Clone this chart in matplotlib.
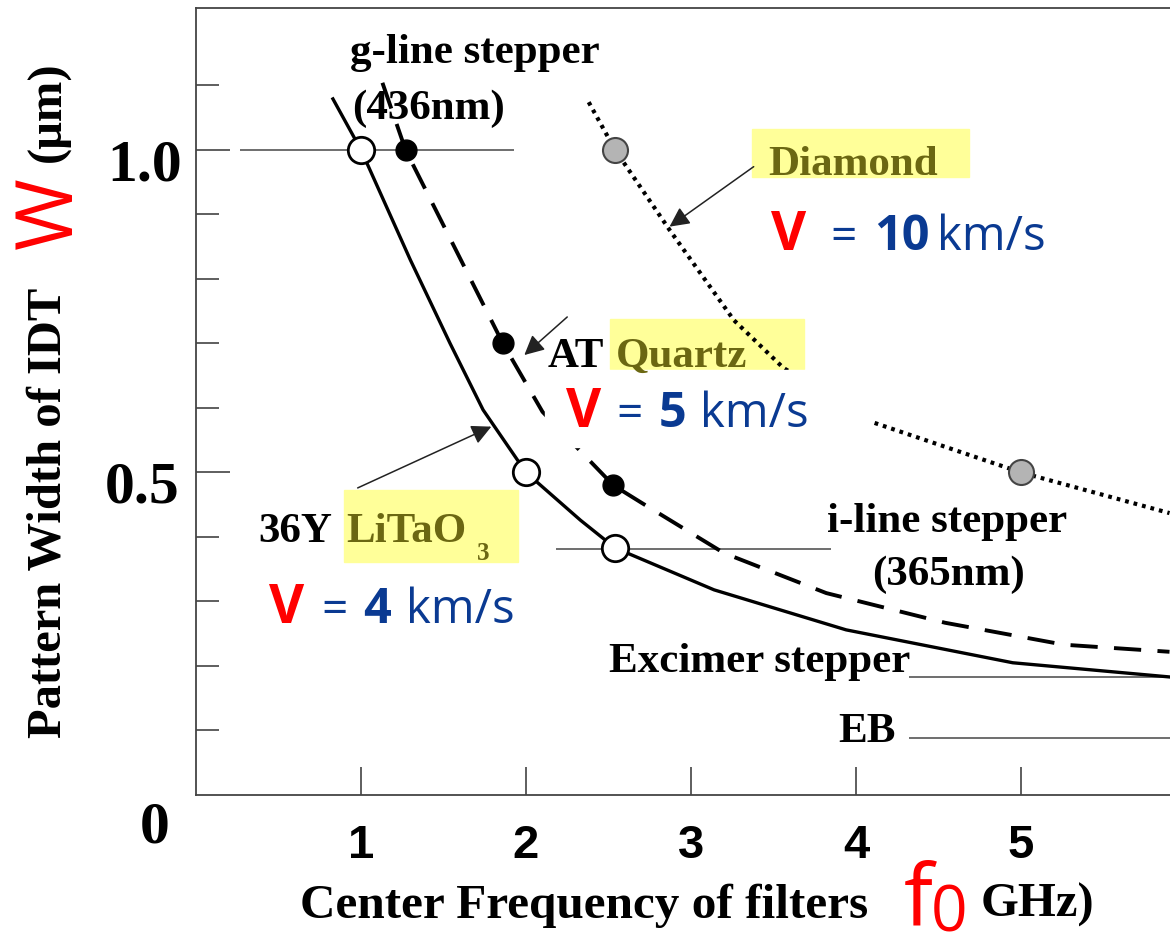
import matplotlib
matplotlib.use('Agg')
import matplotlib.pyplot as plt
from matplotlib.patches import Rectangle
import numpy as np

# --- donnees (f en GHz, W en um) ---
litao_f = [0.83, 1.0, 1.30, 1.54, 1.74, 2.0, 2.33, 2.54, 3.14, 3.94, 4.95, 5.90]
litao_w = [1.079, 1.0, 0.829, 0.70, 0.597, 0.50, 0.426, 0.383, 0.318, 0.256, 0.205, 0.183]
litao_mark_f = [1.0, 2.0, 2.54]
litao_mark_w = [1.0, 0.5, 0.383]

quartz_f = [1.13, 1.27, 1.86, 2.10, 2.53, 2.70, 3.20, 3.82, 4.54, 5.26, 5.90]
quartz_w = [1.104, 1.0, 0.70, 0.594, 0.48, 0.453, 0.375, 0.313, 0.267, 0.233, 0.222]
quartz_mark_f = [1.27, 1.86, 2.53]
quartz_mark_w = [1.0, 0.70, 0.48]

diamond_f = [2.38, 2.54, 2.87, 3.26, 3.56, 4.11, 5.0, 5.90]
diamond_w = [1.074, 1.0, 0.876, 0.736, 0.662, 0.577, 0.50, 0.437]
diamond_mark_f = [2.54, 5.0]
diamond_mark_w = [1.0, 0.5]

# lignes de resolution des steppers
ref_w = [1.0, 0.381, 0.183, 0.088]
ref_start = [0.267, 2.18, 4.32, 4.32]
ref_end = [1.93, 3.85, 5.9, 5.9]

x_ticks = [1, 2, 3, 4, 5]
y_minor = [0.1, 0.2, 0.3, 0.4, 0.6, 0.7, 0.8, 0.9, 1.1]
y_major = [0.5, 1.0]

SERIF = 'Liberation Serif'
SANS = 'Open Sans'
OLIVE = '#6b6712'
YELLOW = '#ffff99'
BLUE = '#0a3a92'
RED = '#ff0000'

fig = plt.figure(figsize=(11.7, 9.47), dpi=100)
ax = fig.add_axes([0.1675, 0.1605, 0.8325, 0.8311])
ax.set_xlim(0, 5.903)
ax.set_ylim(0, 1.22)

for s in ['left', 'bottom', 'top']:
    ax.spines[s].set_color('#444444')
    ax.spines[s].set_linewidth(1.3)
ax.spines['right'].set_visible(False)

ax.set_xticks(x_ticks)
ax.set_xticklabels([str(t) for t in x_ticks], fontfamily='Liberation Sans',
                   fontweight='bold', fontsize=34)
ax.tick_params(axis='x', direction='in', length=20, width=1.1, color='#333333', pad=21)
ax.set_yticks(y_major)
ax.set_yticklabels([])
ax.set_yticks(y_minor, minor=True)
ax.tick_params(axis='y', which='major', direction='in', length=24.5, width=1.1, color='#333333')
ax.tick_params(axis='y', which='minor', direction='in', length=16.5, width=1.1, color='#333333')

# etiquettes de l'axe y (placees a la main, decalees comme sur l'original)
ax.text(-0.085, 0.953, '1.0', ha='right', va='baseline', fontfamily=SERIF,
        fontweight='bold', fontsize=43, clip_on=False)
ax.text(-0.097, 0.454, '0.5', ha='right', va='baseline', fontfamily=SERIF,
        fontweight='bold', fontsize=43, clip_on=False)
ax.text(-0.158, -0.073, '0', ha='right', va='baseline', fontfamily=SERIF,
        fontweight='bold', fontsize=43, clip_on=False)

# lignes de reference
ax.hlines(ref_w, ref_start, ref_end, colors='#555555', linewidth=1.2, zorder=1)

# surlignages jaunes
ax.add_patch(Rectangle((3.370, 0.958), 1.315, 0.075, color=YELLOW, zorder=1))
ax.add_patch(Rectangle((2.509, 0.660), 1.176, 0.078, color=YELLOW, zorder=1))
ax.add_patch(Rectangle((0.897, 0.361), 1.055, 0.112, color=YELLOW, zorder=1))

# courbes
ax.plot(litao_f, litao_w, color='black', linewidth=2.4, zorder=2)
ax.plot(quartz_f, quartz_w, color='black', linewidth=2.8, dashes=(7, 4.2), zorder=2)
ax.plot(diamond_f, diamond_w, color='black', linewidth=3.0, dashes=(0.9, 1.2), zorder=2)

# boite blanche du texte V = 5 km/s (cache les courbes)
ax.add_patch(Rectangle((2.115, 0.540), 1.975, 0.119, color='white', zorder=3))

ax.plot(litao_mark_f, litao_mark_w, 'o', ms=19, mfc='white', mec='black', mew=2, zorder=4)
ax.plot(quartz_mark_f, quartz_mark_w, 'o', ms=15, mfc='black', mec='black', zorder=4)
ax.plot(diamond_mark_f, diamond_mark_w, 'o', ms=18, mfc='#b4b4b4', mec='#444444', mew=1.5, zorder=4)

# fleches
arr = dict(arrowstyle='-|>', mutation_scale=30, lw=1.1, color='#222222', shrinkA=0, shrinkB=0)
ax.annotate('', xy=(2.87, 0.881), xytext=(3.38, 0.974), arrowprops=arr, zorder=5)
ax.annotate('', xy=(1.99, 0.682), xytext=(2.25, 0.741), arrowprops=arr, zorder=5)
ax.annotate('', xy=(1.79, 0.571), xytext=(0.98, 0.476), arrowprops=arr, zorder=5)

# textes noirs (serif gras)
lab = dict(fontfamily=SERIF, fontweight='bold', fontsize=31, ha='left', va='baseline', zorder=6)
ax.text(0.933, 1.135, 'g-line stepper', **lab)
ax.text(0.945, 1.048, '(436nm)', **lab)
ax.text(2.133, 0.664, 'AT', **lab)
ax.text(0.376, 0.392, '36Y', **lab)
ax.text(3.824, 0.408, 'i-line stepper', **lab)
ax.text(4.097, 0.326, '(365nm)', **lab)
ax.text(2.503, 0.191, 'Excimer stepper', **lab)
ax.text(3.891, 0.082, 'EB', **lab)

olive = dict(lab, color=OLIVE)
ax.text(2.545, 0.664, 'Quartz', **olive)
ax.text(0.909, 0.392, 'LiTaO', **olive)
ax.text(1.700, 0.364, '3', **dict(olive, fontsize=18))
ax.text(3.467, 0.961, 'Diamond', **olive)

# vitesses
def vitesse(x_v, x_eq, x_num, x_unit, y, num):
    kw = dict(fontfamily=SANS, ha='left', va='baseline', zorder=6)
    ax.text(x_v, y, 'V', color=RED, fontweight='bold', fontsize=39, **kw)
    ax.text(x_eq, y, '=', color=BLUE, fontsize=33, **kw)
    ax.text(x_num, y, num, color=BLUE, fontweight='bold', fontsize=35, **kw)
    ax.text(x_unit, y, 'km/s', color=BLUE, fontsize=34, **kw)

vitesse(3.485, 3.842, 4.110, 4.491, 0.845, '10')
vitesse(2.242, 2.545, 2.807, 3.055, 0.571, '5')
vitesse(0.442, 0.758, 1.013, 1.273, 0.267, '4')

# titres des axes
fig.text(0.2564, 0.0306, 'Center Frequency of filters', fontfamily=SERIF,
         fontweight='bold', fontsize=35.5, ha='left', va='baseline')
fig.text(0.7726, 0.0222, 'f', fontfamily=SANS, color=RED, fontsize=62,
         ha='left', va='baseline')
fig.text(0.7957, 0.001, '0', fontfamily=SANS, color=RED, fontsize=46,
         ha='left', va='bottom')
fig.text(0.8385, 0.0317, 'GHz)', fontfamily=SERIF, fontweight='bold',
         fontsize=35, ha='left', va='baseline')

fig.text(0.0521, 0.4583, 'Pattern Width of IDT', fontfamily=SERIF, fontweight='bold',
         fontsize=35, rotation=90, rotation_mode='anchor', ha='center', va='baseline')
fig.text(0.0615, 0.775, 'W', fontfamily=SANS, color=RED, fontsize=56,
         rotation=90, rotation_mode='anchor', ha='center', va='baseline')
fig.text(0.0521, 0.8817, '(\u03bcm)', fontfamily=SERIF, fontweight='bold',
         fontsize=35, rotation=90, rotation_mode='anchor', ha='center', va='baseline')

fig.savefig('out.png', dpi=100)
